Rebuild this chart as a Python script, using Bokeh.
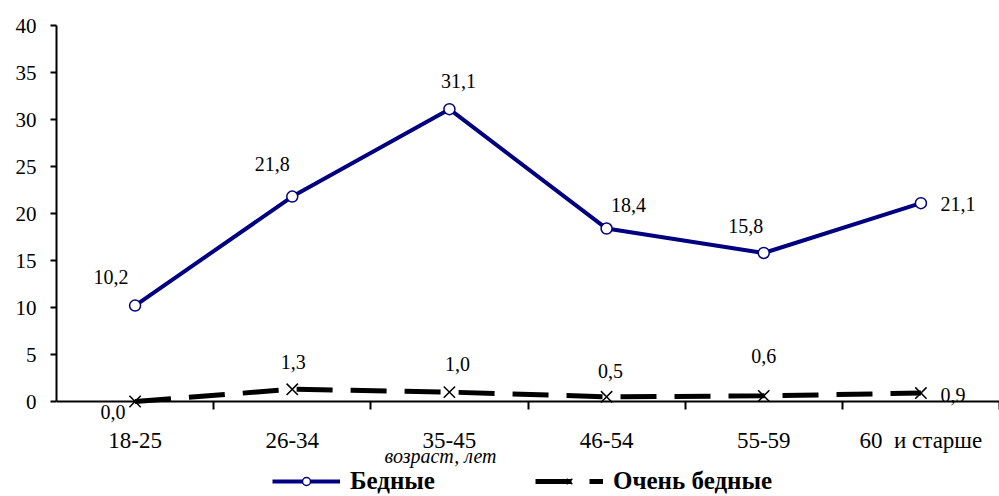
from bokeh.plotting import figure
from bokeh.models import FixedTicker, Legend, LegendItem, ColumnDataSource, Range1d, Label
from bokeh.embed import file_html
from bokeh.resources import INLINE

categories = ["18-25", "26-34", "35-45", "46-54", "55-59", "60\u00a0 и старше"]
poor = [10.2, 21.8, 31.1, 18.4, 15.8, 21.1]
very_poor = [0.0, 1.3, 1.0, 0.5, 0.6, 0.9]
y_ticks = [0, 5, 10, 15, 20, 25, 30, 35, 40]

# label offsets in screen pixels (style)
poor_dx = [-24, -20, 9, 22, -18, 37]
poor_dy = [-29, -33, -28, -24, -27, 1]
vp_dx = [-22, 1, 8, 4, 0, 32]
vp_dy = [10, -27, -28, -26, -40, 2]

SERIF = "Liberation Serif"
NAVY = "#000080"

# layout: plot area from y=25 to y=401 for 0..40, then 95 px for axis labels and legend
PLOT_H, BELOW_H = 376, 95
Y_MAX = 40
y_min = -Y_MAX * BELOW_H / PLOT_H

xs = [i + 0.5 for i in range(len(categories))]
fmt = lambda v: f"{v:.1f}".replace(".", ",")

src_p = ColumnDataSource(dict(x=xs, y=poor, t=[fmt(v) for v in poor], dx=poor_dx, dy=poor_dy))
src_v = ColumnDataSource(dict(x=xs, y=very_poor, t=[fmt(v) for v in very_poor], dx=vp_dx, dy=vp_dy))

p = figure(frame_width=943, frame_height=PLOT_H + BELOW_H,
           x_range=Range1d(0, len(categories)), y_range=Range1d(y_min, Y_MAX),
           output_backend="svg", toolbar_location=None,
           min_border_left=56, min_border_top=25, min_border_right=0, min_border_bottom=0)
p.outline_line_color = None
p.xgrid.visible = False
p.ygrid.visible = False

lp = p.line("x", "y", source=src_p, line_color=NAVY, line_width=4)
sp = p.scatter("x", "y", source=src_p, marker="circle", size=11, fill_color="white",
               line_color=NAVY, line_width=1.5)
lv = p.line("x", "y", source=src_v, line_color="black", line_width=5, line_dash="36 18")
sv = p.scatter("x", "y", source=src_v, marker="x", size=16, line_color="black", line_width=1.5)

for src in (src_p, src_v):
    p.text("x", "y", text="t", source=src, x_offset="dx", y_offset="dy",
           text_align="center", text_baseline="middle", text_font_size="20px",
           text_font={"value": SERIF}, text_color="black")

xa = p.xaxis[0]
xa.fixed_location = 0
xa.ticker = FixedTicker(ticks=xs, minor_ticks=list(range(1, len(categories) + 1)))
xa.major_label_overrides = {x: c for x, c in zip(xs, categories)}
xa.major_tick_out = 0
xa.major_tick_in = 0
xa.minor_tick_out = 8
xa.minor_tick_in = 0
xa.minor_tick_line_width = 2
xa.axis_line_width = 2
xa.axis_line_color = "black"
xa.major_label_text_font = SERIF
xa.major_label_text_font_size = "23px"
xa.major_label_text_color = "black"
xa.major_label_standoff = 18

ya = p.yaxis[0]
ya.bounds = (0, Y_MAX)
ya.ticker = FixedTicker(ticks=y_ticks)
ya.major_tick_out = 6
ya.major_tick_in = 0
ya.major_tick_line_width = 2
ya.minor_tick_out = 0
ya.minor_tick_in = 0
ya.axis_line_width = 2
ya.axis_line_color = "black"
ya.major_label_text_font = SERIF
ya.major_label_text_font_size = "21px"
ya.major_label_text_color = "black"
ya.major_label_standoff = 14

p.add_layout(Label(x=384, y=41, x_units="screen", y_units="screen", text="возраст, лет",
                   text_font=SERIF, text_font_style="italic", text_font_size="20px",
                   text_align="center", text_baseline="middle", text_color="black"))

legend = Legend(items=[LegendItem(label="Бедные", renderers=[lp, sp]),
                       LegendItem(label="Очень бедные", renderers=[lv, sv])],
                orientation="horizontal", location=(216, 1),
                label_text_font=SERIF, label_text_font_style="bold", label_text_font_size="25px",
                label_text_color="black",
                glyph_width=68, glyph_height=20, spacing=100, label_standoff=10,
                border_line_color=None, background_fill_alpha=0, padding=0, margin=0)
p.add_layout(legend)

open("out.html", "w").write(file_html(p, INLINE))
